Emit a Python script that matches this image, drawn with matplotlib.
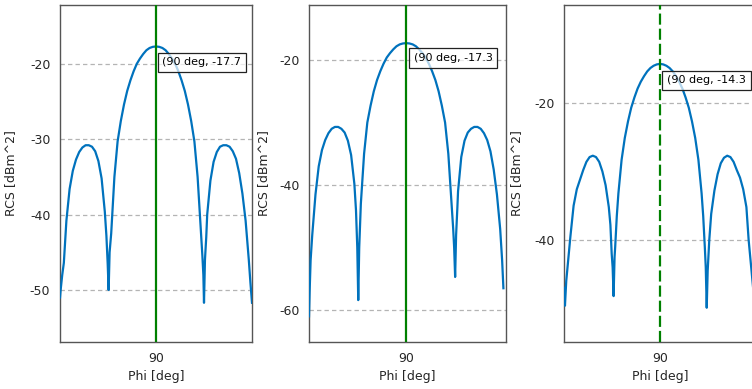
import numpy as np
import matplotlib
matplotlib.use("Agg")
import matplotlib.pyplot as plt

plt.rcParams['font.family'] = ['DejaVu Sans']
plt.rcParams['axes.unicode_minus'] = False

phi1 = [60, 60.2, 60.7, 61.2, 62, 63, 64, 65, 66, 67, 68, 69, 70, 71, 72, 73, 74, 74.5, 74.9, 75.2,
        75.5, 76, 77, 78, 79, 80, 81, 82, 83, 84, 85, 86, 87, 88, 89, 90,
        91, 92, 93, 94, 95, 96, 97, 98, 99, 100, 101, 102, 103, 104, 104.5, 104.8, 105, 105.3,
        105.7, 106, 107, 108, 109, 110, 111, 112, 113, 114, 115, 116, 117, 118, 119, 119.5, 120]
rcs1 = [-51.0, -50.0, -48.0, -46.4, -40.8, -36.6, -34.2, -32.7, -31.7, -31.1, -30.8, -30.8, -31.0,
        -31.6, -32.9, -35.2, -39.6, -42.8, -46.5, -50.0, -45.0, -42.5, -35.0, -30.3, -27.6, -25.4,
        -23.6, -22.2, -21.0, -20.0, -19.3, -18.7, -18.2, -17.9, -17.75, -17.7,
        -17.75, -17.9, -18.2, -18.7, -19.3, -20.0, -21.0, -22.2, -23.6, -25.4, -27.6, -30.3, -35.0,
        -42.0, -45.5, -48.0, -51.7, -46.0, -43.0, -40.0, -35.5, -33.0, -31.7, -31.0, -30.8, -30.8,
        -31.0, -31.6, -32.6, -34.5, -37.2, -40.8, -46.0, -49.0, -51.7]

phi2 = [60, 60.2, 60.5, 61, 62, 63, 64, 65, 66, 67, 68, 69, 70, 71, 72, 73, 74, 74.5, 74.9, 75.2,
        75.5, 76, 77, 78, 79, 80, 81, 82, 83, 84, 85, 86, 87, 88, 89, 90,
        91, 92, 93, 94, 95, 96, 97, 98, 99, 100, 101, 102, 103, 104, 104.5, 104.8, 105.1, 105.4,
        105.8, 106, 107, 108, 109, 110, 111, 112, 113, 114, 115, 116, 117, 118, 119, 119.6, 120]
rcs2 = [-61.0, -57.0, -52.0, -48.0, -41.5, -37.0, -34.4, -32.8, -31.7, -31.0, -30.7, -30.7, -31.0,
        -31.6, -32.9, -35.2, -39.8, -44.0, -50.0, -58.4, -50.0, -43.0, -35.0, -30.0, -27.3, -25.0,
        -23.2, -21.8, -20.6, -19.6, -18.9, -18.3, -17.8, -17.5, -17.35, -17.3,
        -17.35, -17.5, -17.8, -18.3, -18.9, -19.6, -20.6, -21.8, -23.2, -25.0, -27.3, -30.0, -35.0,
        -43.0, -47.0, -50.0, -54.7, -48.0, -43.5, -41.0, -35.5, -32.9, -31.6, -31.0, -30.7, -30.7,
        -31.0, -31.7, -32.8, -34.6, -37.5, -41.5, -47.0, -52.0, -56.5]

phi3 = [60, 60.3, 60.7, 61.2, 62, 63, 64, 65, 66, 67, 68, 69, 70, 71, 72, 73, 74, 74.5, 74.9, 75.2,
        75.5, 75.8, 76, 76.5, 77, 78, 79, 80, 81, 82, 83, 84, 85, 86, 87, 88, 89, 90,
        91, 92, 93, 94, 95, 96, 97, 98, 99, 100, 101, 102, 103, 103.5, 104, 104.3, 104.6, 104.9,
        105.4, 106, 107, 108, 109, 110, 111, 112, 113, 114, 115, 116, 117, 117.7, 118.3, 119,
        119.6, 120]
rcs3 = [-47.0, -49.6, -46.0, -43.5, -39.5, -35.0, -32.6, -31.2, -29.8, -28.6, -27.9, -27.7, -27.9,
        -28.6, -30.0, -32.0, -35.2, -37.8, -42.0, -44.0, -48.2, -42.5, -41.0, -36.5, -33.2, -28.3,
        -25.1, -22.7, -20.7, -19.2, -17.9, -16.9, -16.1, -15.4, -14.9, -14.57, -14.37, -14.3,
        -14.37, -14.57, -14.9, -15.4, -16.1, -16.9, -17.9, -19.2, -20.7, -22.7, -25.1, -28.3, -33.2,
        -36.5, -41.0, -44.0, -49.9, -44.5, -40.0, -36.2, -32.8, -30.4, -28.8, -28.0, -27.7, -27.9,
        -28.6, -29.8, -30.9, -32.6, -35.2, -40.0, -43.0, -46.5, -49.5, -47.0]

tips = ["(90 deg, -17.7", "(90 deg, -17.3", "(90 deg, -14.3"]

BLUE = '#0072BD'
GREEN = '#008000'

fig = plt.figure(figsize=(7.52, 3.89), dpi=100)

panels = [
    # rect, xlim, ylim, yticks, marker style, tip pos, ylabel x
    ([60/752, 47/389, 192/752, 337/389], (60, 120), (-56.9, -12.2), [-50, -40, -30, -20], '-', (92.0, -19.8), -0.224),
    ([309/752, 47/389, 197/752, 337/389], (60, 120.8), (-65.1, -11.2), [-60, -40, -20], '-', (92.3, -19.7), -0.198),
    ([564/752, 47/389, 192/752, 337/389], (60, 120), (-54.9, -5.7), [-40, -20], '--', (92.2, -16.7), -0.212),
]
data = [(phi1, rcs1), (phi2, rcs2), (phi3, rcs3)]

for (rect, xl, yl, yt, ls, tip_xy, ylx), (px, py), tip in zip(panels, data, tips):
    ax = fig.add_axes(rect)
    ax.plot(px, py, color=BLUE, lw=1.6, zorder=3)
    ax.set_xlim(*xl)
    ax.set_ylim(*yl)
    ax.set_yticks(yt)
    ax.set_xticks([90])
    ax.yaxis.grid(True, color='#b4b4b4', ls=(0, (3.5, 2.5)), lw=0.9)
    ax.set_axisbelow(True)
    if ls == '--':
        ax.axvline(90, color=GREEN, lw=1.6, ls=(0, (5, 1.8)), zorder=4)
    else:
        ax.axvline(90, color=GREEN, lw=1.6, zorder=4)
    ax.tick_params(length=0, labelsize=9, colors='#262626', pad=7)
    for s in ax.spines.values():
        s.set_color('#555555')
        s.set_linewidth(1.0)
    ax.set_ylabel('RCS [dBm^2]', fontsize=9, color='#262626')
    ax.set_xlabel('Phi [deg]', fontsize=9, color='#262626')
    ax.yaxis.set_label_coords(ylx, 0.5)
    ax.xaxis.set_label_coords(0.5, -0.082)
    ax.text(tip_xy[0], tip_xy[1], tip, fontsize=8, va='center', ha='left', zorder=5,
            bbox=dict(boxstyle='square,pad=0.42', fc=(1, 1, 1, 0.7), ec='#222222', lw=0.9))

fig.savefig('out.png', dpi=100)
